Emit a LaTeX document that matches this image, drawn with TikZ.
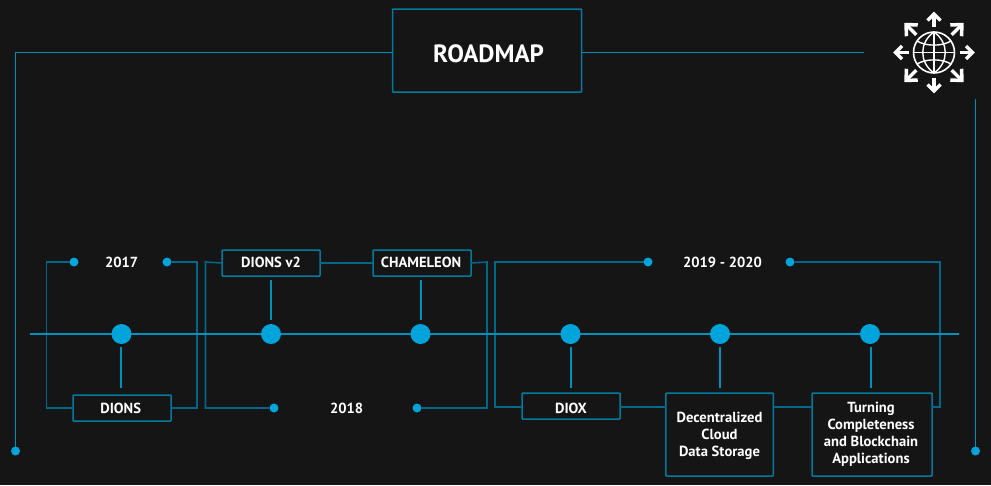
\documentclass[tikz,border=0pt]{standalone}
\usepackage{fontspec}
\setmainfont{PT Sans}
\definecolor{bgc}{HTML}{151515}
\definecolor{bright}{HTML}{00A3DA}
\definecolor{stemc}{HTML}{0090BE}
\definecolor{brk}{HTML}{00668A}
\definecolor{boxc}{HTML}{007A9E}
\definecolor{topl}{HTML}{008DB8}
\tikzset{
  bigdot/.style={circle,fill=bright,inner sep=0pt,minimum size=20pt,outer sep=0pt},
  smalldot/.style={circle,fill=bright,inner sep=0pt,minimum size=9pt,outer sep=0pt},
  itembox/.style={draw=boxc,line width=1.5pt,fill=bgc,rounded corners=0.8pt,inner sep=0pt,outer sep=0pt,align=center,text=white},
  yearlabel/.style={text=white,font=\bfseries\fontsize{14.6}{17}\selectfont,inner sep=0pt},
  bracket/.style={draw=brk,line width=1.6pt,line join=miter},
  stem/.style={draw=stemc,line width=1.8pt},
  mainl/.style={draw=stemc,line width=1.6pt},
  frameline/.style={draw=topl,line width=1.2pt},
  arrowl/.style={draw=white,line width=3.5pt,line cap=butt,line join=miter}
}
\begin{document}
\begin{tikzpicture}[x=1pt,y=-1pt]
\fill[bgc] (0,0) rectangle (991,485);
\useasboundingbox (0,0) rectangle (991,485);
% frame
\node[itembox,minimum width=189pt,minimum height=83pt] (road) at (487,50.5) {};
\node[text=white,font=\bfseries\fontsize{25}{28}\selectfont,inner sep=0pt] (roadt) at (488.5,54) {ROADMAP};
\node[smalldot] (fl) at (15.5,451) {};
\node[smalldot] (fr) at (975.5,451) {};
\coordinate (flc) at (15.5,52.5);
\coordinate (fre) at (864,52.5);
\coordinate (frt) at (975.5,99);
\coordinate (rl) at (392,52.5);
\coordinate (rr) at (581.5,52.5);
\draw[frameline] (rl) -- (flc) -- (fl);
\draw[frameline] (rr) -- (fre);
\draw[frameline] (frt) -- (fr);
% main line
\coordinate (ma) at (30,334);
\coordinate (mb) at (959,334);
% dots
\node[smalldot] (a1) at (74,262) {};
\node[smalldot] (a2) at (167,262) {};
\node[smalldot] (b1) at (274,408) {};
\node[smalldot] (b2) at (417,408) {};
\node[smalldot] (c1) at (648,262) {};
\node[smalldot] (c2) at (790,262) {};
% boxes
\node[itembox,minimum width=98pt,minimum height=26pt] (dions) at (122,408) {};
\node[itembox,minimum width=98pt,minimum height=26pt] (v2) at (271,263) {};
\node[itembox,minimum width=98pt,minimum height=26pt] (cham) at (422,263) {};
\node[itembox,minimum width=98pt,minimum height=26pt] (diox) at (571,406) {};
\node[itembox,minimum width=107.5pt,minimum height=83pt] (cloud) at (719.7,434.5) {};
\node[itembox,minimum width=120pt,minimum height=83pt] (turn) at (872,434.5) {};
% brackets
\coordinate (a1c) at (46.5,262);
\coordinate (a1d) at (46.5,408);
\coordinate (a2c) at (197,262);
\coordinate (a2d) at (197,408);
\coordinate (b1c) at (205.5,408);
\coordinate (b1d) at (205.5,262);
\coordinate (b2c) at (487,408);
\coordinate (b2d) at (487,262);
\coordinate (c1c) at (495,262);
\coordinate (c1d) at (495,407.2);
\coordinate (c2c) at (940,262);
\coordinate (c2d) at (940,407.2);
\coordinate (dx1) at (522,407.2);
\coordinate (dx2) at (620,407.2);
\coordinate (cl1) at (666,407.2);
\coordinate (cl2) at (773.5,407.2);
\coordinate (tu1) at (812,407.2);
\coordinate (tu2) at (932,407.2);
\draw[bracket] (a1) -- (a1c) -- (a1d) -- (dions.west);
\draw[bracket] (a2) -- (a2c) -- (a2d) -- (dions.east);
\draw[bracket] (b1) -- (b1c) -- (b1d) -- (v2.west);
\draw[bracket] (v2.east) -- (cham.west);
\draw[bracket] (b2) -- (b2c) -- (b2d) -- (cham.east);
\draw[bracket] (c1) -- (c1c) -- (c1d) -- (dx1);
\draw[bracket] (c2) -- (c2c) -- (c2d) -- (tu2);
\draw[bracket] (dx2) -- (cl1);
\draw[bracket] (cl2) -- (tu1);
\draw[mainl] (ma) -- (mb);
% big dots
\node[bigdot] (n1) at (121.5,334) {};
\node[bigdot] (n2) at (271,334) {};
\node[bigdot] (n3) at (420.5,334) {};
\node[bigdot] (n4) at (570.5,334) {};
\node[bigdot] (n5) at (720,334) {};
\node[bigdot] (n6) at (870,334) {};
% stems
\coordinate (s1a) at (120.8,347); \coordinate (s1b) at (120.8,388);
\coordinate (s2a) at (271,280);   \coordinate (s2b) at (271,320);
\coordinate (s3a) at (420.8,280); \coordinate (s3b) at (420.8,320);
\coordinate (s4a) at (570.8,347); \coordinate (s4b) at (570.8,388);
\coordinate (s5a) at (720,347);   \coordinate (s5b) at (720,388);
\coordinate (s6a) at (870.8,347); \coordinate (s6b) at (870.8,388);
\draw[stem] (s1a) -- (s1b);
\draw[stem] (s2a) -- (s2b);
\draw[stem] (s3a) -- (s3b);
\draw[stem] (s4a) -- (s4b);
\draw[stem] (s5a) -- (s5b);
\draw[stem] (s6a) -- (s6b);
% labels
\node[yearlabel] (y17) at (121.7,262) {2017};
\node[yearlabel] (y18) at (346.7,408) {2018};
\node[yearlabel] (y19) at (722.5,262) {2019 - 2020};
\node[yearlabel] (t1) at (120.7,408.5) {DIONS};
\node[yearlabel] (t2) at (271,262.5) {DIONS v2};
\node[yearlabel] (t3) at (421,262.5) {CHAMELEON};
\node[yearlabel] (t4) at (571,408) {DIOX};
\node[yearlabel,align=center] (t5) at (719.5,435.5) {Decentralized\\Cloud\\Data Storage};
\node[yearlabel,align=center] (t6) at (871,434) {Turning\\Completeness\\and Blockchain\\Applications};
% globe icon
\begin{scope}[shift={(934,52.5)}]
\draw[white,line width=1.6pt] (0,0) circle (20.5);
\draw[white,line width=1.4pt] (-20.5,0) -- (20.5,0) (0,-20.5) -- (0,20.5);
\draw[white,line width=1.4pt] (0,-20.5) .. controls (-15,-10) and (-15,10) .. (0,20.5);
\draw[white,line width=1.4pt] (0,-20.5) .. controls (15,-10) and (15,10) .. (0,20.5);
\draw[white,line width=1.4pt] (-17,-11.5) .. controls (-8,-6) and (8,-6) .. (17,-11.5);
\draw[white,line width=1.4pt] (-17,11.5) .. controls (-8,6) and (8,6) .. (17,11.5);
\foreach \a in {0,90,180,270}{
  \begin{scope}[rotate=\a]
  \draw[arrowl] (25.5,0) -- (38,0);
  \draw[arrowl] (32,-6.5) -- (38.5,0) -- (32,6.5);
  \end{scope}
}
\foreach \a in {45,135,225,315}{
  \begin{scope}[rotate=\a]
  \draw[arrowl] (25,0) -- (39,0);
  \draw[arrowl] (31,-8) -- (39.5,0) -- (31,8);
  \end{scope}
}
\end{scope}
\end{tikzpicture}
\end{document}
